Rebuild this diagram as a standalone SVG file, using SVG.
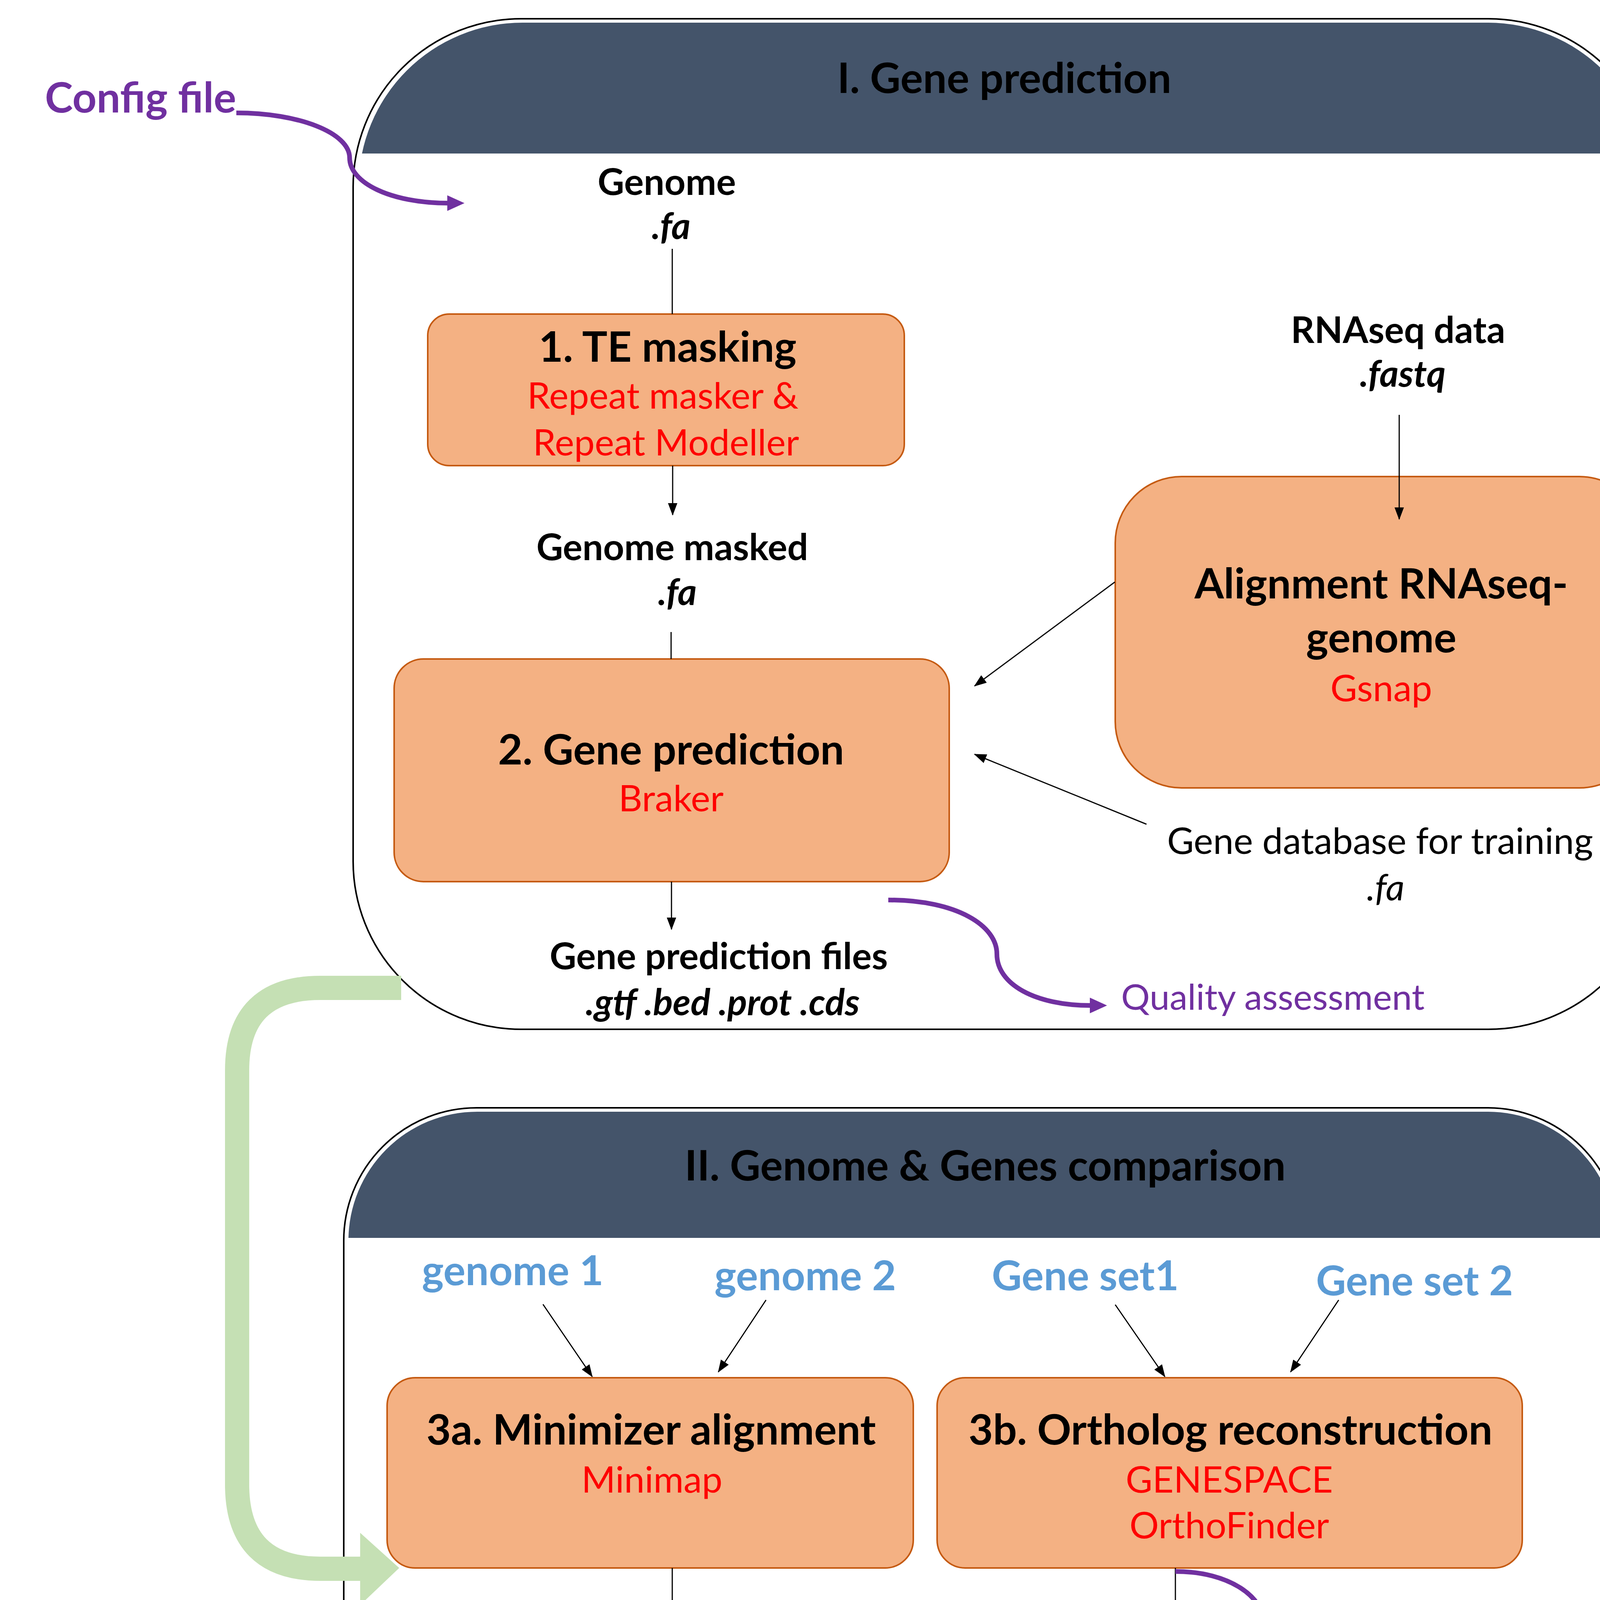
<svg xmlns="http://www.w3.org/2000/svg" width="4855" height="6496" viewBox="0 0 4855 6496">
<defs>
<style>
text{font-family:Lato,"Liberation Sans",sans-serif}
.t{font-size:108px;font-weight:700;fill:#000}
.b{font-size:94px;font-weight:700;fill:#000}
.bi{font-size:94px;font-weight:700;font-style:italic;fill:#000}
.r{font-size:94px;fill:#FF0000}
.n{font-size:94px;fill:#000}
.i{font-size:94px;font-style:italic;fill:#000}
.pt{font-size:108px;font-weight:700;fill:#7030A0}
.pn{font-size:92px;fill:#7030A0}
.bl{font-size:106px;font-weight:700;fill:#5B9BD5}
.m{text-anchor:middle}
.panel{fill:#fff;stroke:#000;stroke-width:4}
.hdr{fill:#44546A}
.box{fill:#F4B183;stroke:#C55A11;stroke-width:4}
.ln{stroke:#000;stroke-width:3;fill:none}
.pc{stroke:#7030A0;stroke-width:12;fill:none}
.g{stroke:#C5E0B4;fill:none}
.gh{fill:#C5E0B4}
</style>
<marker id="ah" markerUnits="userSpaceOnUse" markerWidth="32" markerHeight="24" refX="30" refY="12" orient="auto"><path d="M0,0 L32,12 L0,24 z" fill="#000"/></marker>
<marker id="ap" markerUnits="userSpaceOnUse" markerWidth="44" markerHeight="40" refX="3" refY="20" orient="auto"><path d="M0,0 L44,20 L0,40 z" fill="#7030A0"/></marker>
<clipPath id="c1"><rect x="0" y="0" width="4855" height="393"/></clipPath>
<clipPath id="c2"><rect x="0" y="2800" width="4855" height="369"/></clipPath>
<clipPath id="c3"><rect x="0" y="4700" width="4855" height="356"/></clipPath>
</defs>

<g id="panel1">
<rect class="panel" x="904" y="48" width="3336" height="2587" rx="430" ry="430"/>
<rect class="hdr" x="918" y="58" width="3310" height="2560" rx="420" ry="420" clip-path="url(#c1)"/>
<text class="t m" x="2571" y="238">I. Gene prediction</text>
</g>

<g id="panel2">
<rect class="panel" x="880" y="2836" width="3268" height="1732" rx="340" ry="340"/>
<rect class="hdr" x="892" y="2846" width="3246" height="1700" rx="330" ry="330" clip-path="url(#c2)"/>
<text class="t m" x="2522" y="3022">II. Genome &amp; Genes comparison</text>
</g>

<g id="panel3">
<rect class="panel" x="880" y="4733" width="3280" height="1688" rx="420" ry="420"/>
<rect class="hdr" x="893" y="4743" width="3254" height="1660" rx="410" ry="410" clip-path="url(#c3)"/>
<text class="t m" x="2420" y="4929">III. Strata detection</text>
</g>

<g id="config">
<text class="pt" x="115" y="288">Config file</text>
</g>

<g id="genome">
<text class="b m" x="1707" y="499">Genome</text>
<text class="bi m" x="1718" y="612">.fa</text>
</g>

<g id="te-masking">
<rect class="box" x="1095" y="804" width="1220" height="388" rx="55" ry="55"/>
<text class="t m" x="1709" y="926">1. TE masking</text>
<text class="r m" x="1697" y="1046">Repeat masker &amp;</text>
<text class="r m" x="1705" y="1166">Repeat Modeller</text>
</g>

<g id="genome-masked">
<text class="b m" x="1721" y="1434">Genome masked</text>
<text class="bi m" x="1734" y="1549">.fa</text>
</g>

<g id="gene-prediction">
<rect class="box" x="1009" y="1687" width="1421" height="570" rx="75" ry="75"/>
<text class="t m" x="1718" y="1957">2. Gene prediction</text>
<text class="r m" x="1718" y="2077">Braker</text>
</g>

<g id="rnaseq">
<text class="b m" x="3579" y="878">RNAseq data</text>
<text class="bi m" x="3591" y="990">.fastq</text>
</g>

<g id="alignment">
<rect class="box" x="2855" y="1220" width="1358" height="797" rx="170" ry="170"/>
<text class="t m" x="3536" y="1532">Alignment RNAseq-</text>
<text class="t m" x="3536" y="1670">genome</text>
<text class="r m" x="3536" y="1795">Gsnap</text>
</g>

<g id="gene-db">
<text class="n m" x="3533" y="2186">Gene database for training</text>
<text class="i m" x="3547" y="2305">.fa</text>
</g>

<g id="pred-files">
<text class="b m" x="1840" y="2481">Gene prediction files</text>
<text class="bi m" x="1850" y="2599">.gtf .bed .prot .cds</text>
</g>

<g id="quality">
<text class="pn" x="2870" y="2585">Quality assessment</text>
</g>

<g id="genome1"><text class="bl" x="1080" y="3290">genome 1</text></g>
<g id="genome2"><text class="bl" x="1829" y="3303">genome 2</text></g>
<g id="geneset1"><text class="bl" x="2539" y="3303">Gene set1</text></g>
<g id="geneset2"><text class="bl" x="3369" y="3316">Gene set 2</text></g>

<g id="minimizer">
<rect class="box" x="991" y="3527" width="1347" height="487" rx="72" ry="72"/>
<text class="t m" x="1667" y="3698">3a. Minimizer alignment</text>
<text class="r m" x="1669" y="3821">Minimap</text>
</g>

<g id="ortholog">
<rect class="box" x="2399" y="3527" width="1498" height="487" rx="72" ry="72"/>
<text class="t m" x="3150" y="3698">3b. Ortholog reconstruction</text>
<text class="r m" x="3147" y="3821">GENESPACE</text>
<text class="r m" x="3147" y="3938">OrthoFinder</text>
</g>

<g id="dotplots"><text class="t m" x="1693" y="4387">Dotplots/Synteny plots</text></g>

<g id="output-orthofinder">
<text class="t m" x="3083" y="4387">Output orthofinder</text>
<text class="t m" x="3097" y="4521">(Orthogroup single copy)</text>
</g>

<g id="synteny"><text class="pn" x="3461" y="4279">Synteny blocks</text></g>

<g id="single-copy">
<rect class="box" x="1375" y="5075" width="2012" height="333" rx="50" ry="50"/>
<text class="t" x="1418" y="5217">4. Single copy orthologs alignment</text>
<text class="r m" x="2384" y="5338">MUSCLE/TranslatorX</text>
</g>

<g id="ds">
<rect class="box" x="1628" y="5582" width="1607" height="297" rx="50" ry="50"/>
<text class="t m" x="2430" y="5725">5. dS calculation</text>
<text class="r m" x="2430" y="5845">paml</text>
</g>

<g id="changepoint">
<rect class="box" x="1628" y="6043" width="1607" height="333" rx="50" ry="50"/>
<text class="t m" x="2430" y="6184">6. Changepoint analysis</text>
<text class="r m" x="2430" y="6305">MCP</text>
</g>

<g id="connectors">
<path class="pc" d="M605,289 C765,289 895,340 895,404 C895,468 1000,520 1148,520" marker-end="url(#ap)"/>
<line class="ln" x1="1721" y1="637" x2="1721" y2="804"/>
<line class="ln" x1="1722" y1="1192" x2="1722" y2="1318" marker-end="url(#ah)"/>
<line class="ln" x1="1718" y1="1618" x2="1718" y2="1687"/>
<line class="ln" x1="3582" y1="1062" x2="3582" y2="1329" marker-end="url(#ah)"/>
<line class="ln" x1="2854" y1="1490" x2="2495" y2="1756" marker-end="url(#ah)"/>
<line class="ln" x1="2935" y1="2110" x2="2495" y2="1931" marker-end="url(#ah)"/>
<line class="ln" x1="1719" y1="2257" x2="1719" y2="2379" marker-end="url(#ah)"/>
<path class="pc" d="M2274,2304 C2450,2304 2552,2370 2552,2442 C2552,2520 2650,2574 2793,2574" marker-end="url(#ap)"/>
<line class="ln" x1="1390" y1="3339" x2="1516" y2="3524" marker-end="url(#ah)"/>
<line class="ln" x1="1961" y1="3328" x2="1839" y2="3512" marker-end="url(#ah)"/>
<line class="ln" x1="2855" y1="3340" x2="2982" y2="3524" marker-end="url(#ah)"/>
<line class="ln" x1="3427" y1="3328" x2="3304" y2="3512" marker-end="url(#ah)"/>
<line class="ln" x1="1721" y1="4014" x2="1721" y2="4294" marker-end="url(#ah)"/>
<line class="ln" x1="3009" y1="4014" x2="3009" y2="4307" marker-end="url(#ah)"/>
<path class="pc" d="M3009,4023 C3150,4023 3235,4090 3235,4154 C3235,4230 3300,4288 3412,4288" marker-end="url(#ap)"/>
<line class="ln" x1="2424" y1="5418" x2="2424" y2="5567" marker-end="url(#ah)"/>
<line class="ln" x1="2424" y1="5889" x2="2424" y2="6029" marker-end="url(#ah)"/>
<path class="g" stroke-width="62" d="M1027,2529 L820,2529 Q607,2529 607,2740 L607,3800 Q607,4016 820,4016 L930,4016"/>
<polygon class="gh" points="922,3924 1022,4014 922,4109"/>
<path class="g" stroke-width="54" d="M1149,4478 L900,4478 Q708,4478 708,4670 L708,5180 Q708,5371 900,5371 L1065,5371"/>
<polygon class="gh" points="1059,5280 1152,5371 1059,5465"/>
</g>
</svg>
